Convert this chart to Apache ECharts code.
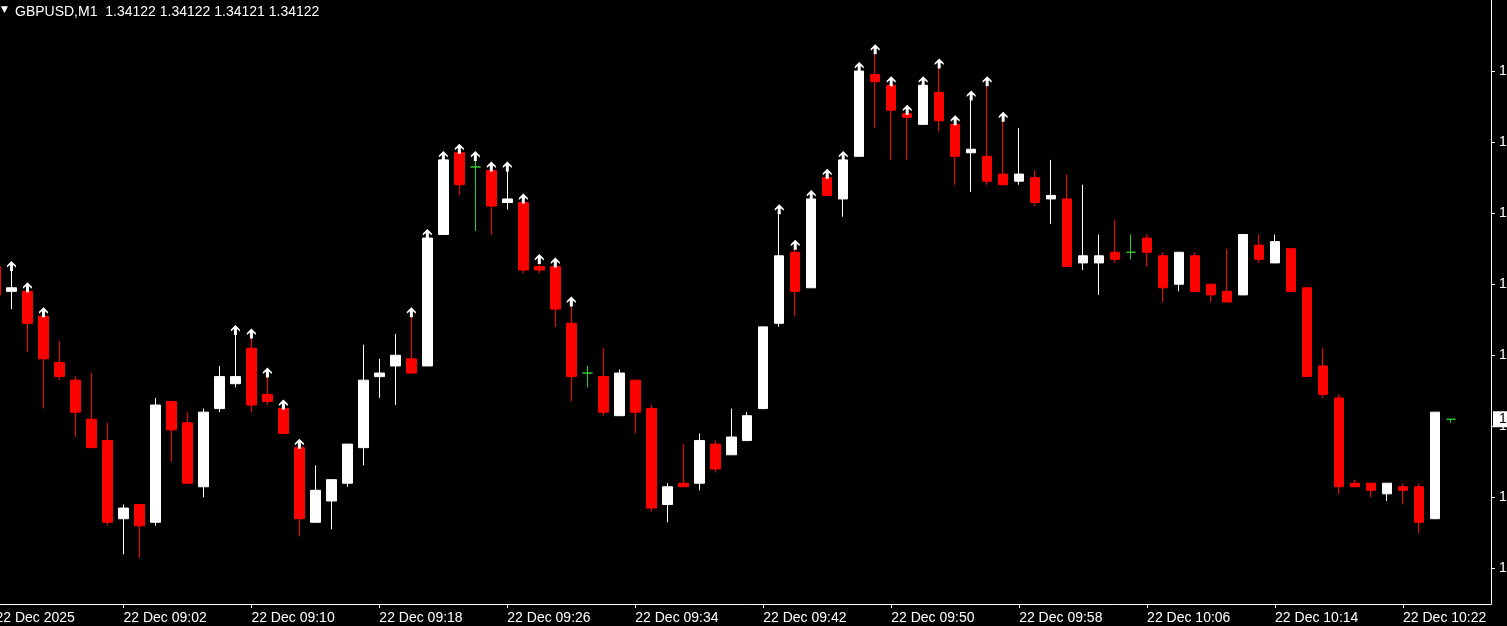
<!DOCTYPE html>
<html><head><meta charset="utf-8">
<style>html,body{margin:0;padding:0;background:#000;}#c{width:1507px;height:626px;}</style>
<script src="https://cdn.jsdelivr.net/npm/echarts@6/dist/echarts.min.js"></script>
</head><body><div id="c"></div>
<script>
const symbolName = 'GBPUSD';
const period = 'M1';
const dayPrefix = '22 Dec ';
const dateLabel = '22 Dec 2025';

const times = [
'08:54','08:55','08:56','08:57','08:58','08:59',
'09:00','09:01','09:02','09:03','09:04','09:05','09:06','09:07','09:08','09:09',
'09:10','09:11','09:12','09:13','09:14','09:15','09:16','09:17','09:18','09:19',
'09:20','09:21','09:22','09:23','09:24','09:25','09:26','09:27','09:28','09:29',
'09:30','09:31','09:32','09:33','09:34','09:35','09:36','09:37','09:38','09:39',
'09:40','09:41','09:42','09:43','09:44','09:45','09:46','09:47','09:48','09:49',
'09:50','09:51','09:52','09:53','09:54','09:55','09:56','09:57','09:58','09:59',
'10:00','10:01','10:02','10:03','10:04','10:05','10:06','10:07','10:08','10:09',
'10:10','10:11','10:12','10:13','10:14','10:15','10:16','10:17','10:18','10:19',
'10:20','10:21','10:22','10:23','10:24','10:25','10:26','10:27'];

const opens = [
1.34165,1.34158,1.34158,1.34151,1.34138,1.34133,
1.34122,1.34116,1.34094,1.34098,1.34093,1.34127,1.34121,1.34103,1.34125,1.34132,
1.34142,1.34129,1.34125,1.34114,1.34093,1.34099,1.34104,1.34114,1.34134,1.34137,
1.34139,1.34137,1.34174,1.34197,1.34193,1.34192,1.34183,1.34183,1.34165,1.34165,
1.34149,1.34135,1.34134,1.34123,1.34133,1.34125,1.34098,1.34104,1.34104,1.34115,
1.34112,1.34116,1.34125,1.34149,1.34169,1.34159,1.34190,1.34184,1.34196,1.34219,
1.34216,1.34208,1.34205,1.34214,1.34205,1.34197,1.34196,1.34191,1.34189,1.34190,
1.34184,1.34184,1.34166,1.34166,1.34169,1.34169,1.34173,1.34168,1.34160,1.34168,
1.34160,1.34158,1.34157,1.34171,1.34166,1.34170,1.34159,1.34137,1.34128,1.34104,
1.34104,1.34101,1.34103,1.34103,1.34094,1.34122];

const highs = [
1.34166,1.34164,1.34158,1.34151,1.34144,1.34134,
1.34135,1.34121,1.34098,1.34098,1.34128,1.34127,1.34124,1.34125,1.34137,1.34146,
1.34145,1.34134,1.34125,1.34114,1.34109,1.34105,1.34115,1.34143,1.34139,1.34146,
1.34151,1.34173,1.34195,1.34197,1.34195,1.34192,1.34192,1.34183,1.34166,1.34165,
1.34154,1.34137,1.34142,1.34136,1.34133,1.34126,1.34104,1.34115,1.34118,1.34116,
1.34125,1.34124,1.34148,1.34180,1.34170,1.34184,1.34190,1.34195,1.34220,1.34225,
1.34216,1.34208,1.34216,1.34221,1.34205,1.34212,1.34216,1.34206,1.34204,1.34192,
1.34195,1.34191,1.34188,1.34174,1.34178,1.34174,1.34174,1.34169,1.34169,1.34169,
1.34160,1.34170,1.34174,1.34174,1.34174,1.34170,1.34159,1.34142,1.34129,1.34105,
1.34104,1.34104,1.34104,1.34104,1.34124,1.34122];

const lows = [
1.34156,1.34153,1.34141,1.34125,1.34133,1.34117,
1.34114,1.34092,1.34084,1.34083,1.34092,1.34110,1.34104,1.34100,1.34124,1.34131,
1.34124,1.34126,1.34118,1.34089,1.34093,1.34091,1.34103,1.34109,1.34128,1.34126,
1.34135,1.34137,1.34174,1.34185,1.34175,1.34174,1.34181,1.34163,1.34163,1.34148,
1.34127,1.34131,1.34123,1.34123,1.34118,1.34096,1.34093,1.34103,1.34102,1.34107,
1.34112,1.34116,1.34125,1.34148,1.34151,1.34159,1.34185,1.34179,1.34196,1.34204,
1.34195,1.34195,1.34205,1.34203,1.34188,1.34186,1.34188,1.34188,1.34188,1.34182,
1.34177,1.34165,1.34164,1.34157,1.34166,1.34167,1.34165,1.34155,1.34158,1.34158,
1.34155,1.34155,1.34157,1.34166,1.34166,1.34158,1.34134,1.34128,1.34101,1.34103,
1.34100,1.34099,1.34098,1.34090,1.34094,1.34121];

const closes = [
1.34157,1.34159,1.34149,1.34139,1.34134,1.34124,
1.34114,1.34093,1.34097,1.34092,1.34126,1.34119,1.34104,1.34124,1.34134,1.34134,
1.34126,1.34127,1.34118,1.34094,1.34102,1.34105,1.34115,1.34133,1.34135,1.34140,
1.34135,1.34173,1.34195,1.34188,1.34193,1.34182,1.34184,1.34164,1.34164,1.34153,
1.34134,1.34135,1.34124,1.34135,1.34124,1.34097,1.34103,1.34103,1.34116,1.34108,
1.34117,1.34123,1.34148,1.34168,1.34158,1.34184,1.34185,1.34195,1.34220,1.34217,
1.34209,1.34207,1.34216,1.34206,1.34196,1.34198,1.34189,1.34188,1.34191,1.34183,
1.34185,1.34165,1.34168,1.34168,1.34167,1.34169,1.34169,1.34159,1.34169,1.34158,
1.34157,1.34155,1.34174,1.34167,1.34172,1.34158,1.34134,1.34129,1.34103,1.34103,
1.34102,1.34104,1.34102,1.34093,1.34124,1.34122];

const arrowTimes = [
'08:55','08:56','08:57','09:09','09:10','09:11','09:12','09:13',
'09:20','09:21','09:22','09:23','09:24','09:25','09:26','09:27','09:28','09:29','09:30',
'09:43','09:44','09:45','09:46','09:47','09:48','09:49','09:50','09:51','09:52','09:53',
'09:54','09:55','09:56','09:57'];

const priceTicks = [1.3408,1.3410,1.3412,1.3414,1.3416,1.3418,1.3420,1.3422];
const priceMin = 1.3407;
const priceMax = 1.3424;

const FONT = '"Liberation Sans", Arial, sans-serif';
const candleData = opens.map((o, i) => [o, closes[i], lows[i], highs[i]]);
const arrowData = arrowTimes.map(t => { const i = times.indexOf(t); return [t, highs[i]]; });
const last = opens.length - 1;
const header = symbolName + ',' + period + '  ' +
  [opens[last], highs[last], lows[last], closes[last]].map(v => v.toFixed(5)).join(' ');

const chart = echarts.init(document.getElementById('c'), null, {renderer: 'canvas'});
chart.setOption({
  backgroundColor: '#000',
  animation: false,
  textStyle: {fontFamily: FONT},
  title: [
    {text: '\u25BC', left: 1, top: 5, padding: 0, textStyle: {color: '#fff', fontSize: 9, fontWeight: 'normal', fontFamily: '"DejaVu Sans", sans-serif'}},
    {text: header, left: 15, top: 5, padding: 0, textStyle: {color: '#fff', fontSize: 14, fontWeight: 'normal', fontFamily: FONT}}
  ],
  grid: {left: -12.5, right: 16, top: 0, bottom: 22, containLabel: false, outerBoundsMode: 'none'},
  xAxis: {
    type: 'category',
    data: times,
    boundaryGap: true,
    axisLine: {show: true, lineStyle: {color: '#fff', width: 1}},
    axisTick: {show: true, interval: 7, alignWithLabel: true, length: 4, lineStyle: {color: '#fff'}},
    axisLabel: {
      interval: 7, align: 'left', margin: 7, color: '#fff', fontSize: 14, fontFamily: FONT,
      hideOverlap: false,
      formatter: (v, i) => i === 0 ? dateLabel : dayPrefix + v
    },
    splitLine: {show: false}
  },
  yAxis: [
    {
      type: 'value',
      position: 'right',
      min: priceMin,
      max: priceMax,
      scale: true,
      axisLine: {show: true, lineStyle: {color: '#fff', width: 1}},
      axisTick: {show: true, length: 4, customValues: priceTicks, lineStyle: {color: '#fff'}},
      axisLabel: {customValues: priceTicks, margin: 8, color: '#fff', fontSize: 14, fontFamily: FONT,
        formatter: v => v.toFixed(5)},
      splitLine: {show: false}
    },
    {
      type: 'value',
      position: 'right',
      min: priceMin,
      max: priceMax,
      scale: true,
      z: 10,
      axisLine: {show: false},
      axisTick: {show: false},
      axisLabel: {
        customValues: [closes[last]], margin: 2, color: '#000', backgroundColor: '#fff',
        fontSize: 14, fontFamily: FONT, padding: [1, 6, 1, 6], lineHeight: 14,
        formatter: v => Number(v).toFixed(5)
      },
      splitLine: {show: false}
    }
  ],
  series: [
    {
      type: 'candlestick',
      data: candleData,
      barWidth: 10,
      clip: false,
      itemStyle: {
        color: '#ffffff', color0: '#ff0000',
        borderColor: '#ffffff', borderColor0: '#ff0000',
        borderColorDoji: '#32cd32', borderWidth: 1
      },
      emphasis: {disabled: true}
    },
    {
      type: 'scatter',
      data: arrowData,
      symbol: 'path://M4.5,0L9,4.5L9,6.5L6,4L6,10L3,10L3,4L0,6.5L0,4.5Z',
      symbolSize: [9, 10],
      symbolOffset: [0, -4],
      itemStyle: {color: '#ffffff', opacity: 1},
      emphasis: {disabled: true},
      silent: true,
      z: 5
    }
  ]
});
</script>
</body></html>
